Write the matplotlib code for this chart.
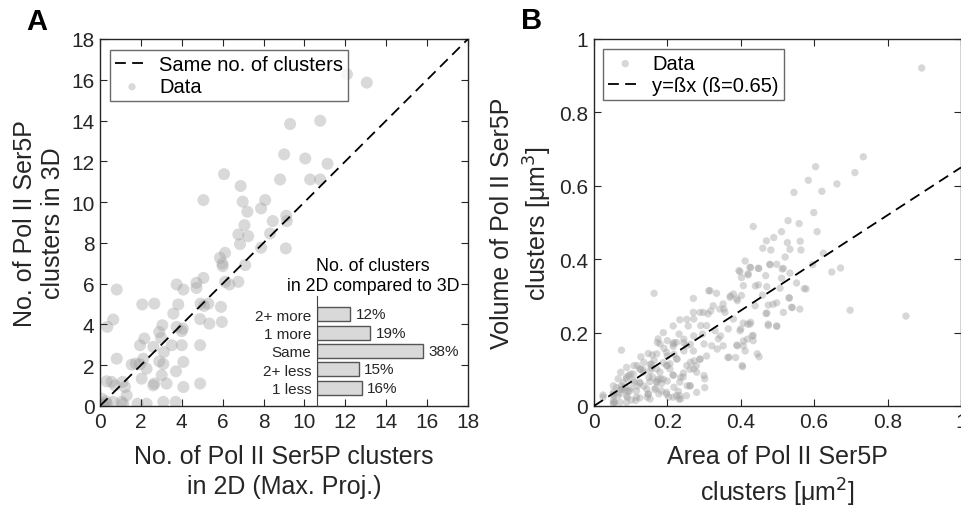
import matplotlib.pyplot as plt
import numpy as np

plt.rcParams['font.family'] = ['Liberation Sans', 'DejaVu Sans']

# panel A: cluster counts, 2D (max proj.) vs 3D
count_2d = [13.05, 12.08, 10.77, 9.30, 9.01, 10.04, 11.13, 10.28, 10.77, 8.81,
            6.07, 6.88, 5.06, 6.98, 8.08, 7.88, 7.21, 8.45, 9.14, 9.11,
            7.07, 6.77, 7.25, 8.32, 6.85, 7.88, 9.09, 7.10, 6.12, 5.87,
            6.00, 5.99, 6.77, 6.33, 6.12, 5.92, 5.96, 5.06, 4.72, 4.72,
            4.92, 5.09, 4.90, 5.35, 5.30, 3.75, 4.08, 3.83, 2.66, 2.07,
            3.59, 3.75, 4.05, 4.00, 3.05, 2.90, 2.99, 3.51, 4.00, 4.90,
            1.96, 2.17, 2.61, 3.13, 2.90, 3.10, 2.12, 1.96, 1.76, 1.55,
            2.28, 2.04, 2.61, 2.66, 3.26, 4.08, 3.72, 4.08, 4.90, 3.02,
            0.82, 0.65, 0.36, 0.82, 0.57, 0.33, 0.73, 1.11, 1.22, 1.31,
            1.06, 0.65, 0.29, 0.08, 0.13, 0.21, 1.84, 2.28, 3.10, 3.70,
            0.33, 1.14]
count_3d = [15.86, 16.27, 13.99, 13.83, 12.34, 12.14, 11.88, 11.11, 11.11, 11.11,
            11.37, 10.79, 10.10, 10.02, 10.10, 9.69, 9.53, 9.07, 9.07, 9.33,
            8.87, 8.41, 8.33, 8.46, 7.94, 7.76, 7.73, 6.91, 7.51, 7.27,
            6.86, 6.99, 6.09, 5.96, 6.09, 4.86, 4.12, 6.28, 6.04, 5.79,
            5.02, 4.91, 4.26, 4.04, 5.02, 5.96, 5.71, 4.98, 5.02, 4.98,
            4.53, 3.88, 3.80, 3.67, 3.96, 3.63, 3.34, 2.98, 2.98, 2.98,
            2.98, 3.31, 2.90, 2.65, 2.19, 2.06, 2.32, 2.05, 2.08, 2.03,
            1.83, 1.34, 1.01, 1.10, 1.10, 2.16, 1.70, 0.93, 1.10, 1.51,
            5.71, 4.24, 3.88, 2.32, 1.18, 1.21, 1.01, 1.18, 0.93, 0.52,
            0.20, 0.20, 0.23, 0.36, 0.11, 0.03, 0.11, 0.11, 0.20, 0.20,
            0.11, 0.11]

# inset: 2D compared to 3D
cmp_labels = ['1 less', '2+ less', 'Same', '1 more', '2+ more']
cmp_pct = [16, 15, 38, 19, 12]

# panel B: area vs volume
area = [0.893, 0.734, 0.711, 0.604, 0.584, 0.662, 0.621, 0.545, 0.599, 0.434,
        0.529, 0.559, 0.511, 0.608, 0.490, 0.470, 0.527, 0.562, 0.460, 0.482,
        0.534, 0.521, 0.564, 0.625, 0.596, 0.479, 0.498, 0.449, 0.513, 0.412,
        0.395, 0.420, 0.427, 0.402, 0.648, 0.672, 0.573, 0.532, 0.540, 0.561,
        0.511, 0.459, 0.440, 0.488, 0.469, 0.475, 0.498, 0.419, 0.431, 0.407,
        0.450, 0.412, 0.405, 0.386, 0.365, 0.698, 0.850, 0.164, 0.075,
        0.398, 0.425, 0.420, 0.448, 0.480, 0.516, 0.534, 0.468, 0.407, 0.448,
        0.471, 0.507, 0.552, 0.578, 0.380, 0.316, 0.334, 0.371, 0.389, 0.402,
        0.439, 0.475, 0.498, 0.532, 0.539, 0.516, 0.471, 0.352, 0.343, 0.325,
        0.298, 0.311, 0.357, 0.380, 0.407, 0.425, 0.475, 0.498, 0.434, 0.434,
        0.407, 0.389, 0.330, 0.307, 0.296, 0.339, 0.366, 0.398, 0.352, 0.321,
        0.053, 0.053, 0.053, 0.025, 0.075, 0.089, 0.107, 0.125, 0.144, 0.171,
        0.180, 0.207, 0.198, 0.225, 0.234, 0.262, 0.089, 0.116, 0.153, 0.071,
        0.089, 0.134, 0.157, 0.171, 0.198, 0.225, 0.253, 0.289, 0.280, 0.302,
        0.216, 0.253, 0.180, 0.066,
        0.289, 0.271, 0.253, 0.257, 0.234, 0.216, 0.189, 0.175, 0.200, 0.225,
        0.216, 0.245, 0.263, 0.271, 0.164, 0.148, 0.128, 0.118, 0.109, 0.089,
        0.073, 0.100, 0.125, 0.153, 0.189, 0.200, 0.218, 0.245, 0.273, 0.289,
        0.307, 0.279, 0.262, 0.244, 0.160, 0.216, 0.200, 0.189, 0.171, 0.152,
        0.136, 0.118, 0.100, 0.093, 0.084, 0.062, 0.053, 0.053, 0.057, 0.071,
        0.080, 0.098, 0.116, 0.125, 0.148, 0.168, 0.184, 0.198, 0.216, 0.236,
        0.252, 0.280, 0.302, 0.262, 0.243, 0.216, 0.198, 0.171, 0.153, 0.134,
        0.125, 0.107, 0.089, 0.071, 0.066, 0.025, 0.234, 0.230, 0.184, 0.166,
        0.148, 0.102, 0.084, 0.207, 0.175, 0.157,
        0.173, 0.159, 0.191, 0.218, 0.232, 0.245, 0.272, 0.271, 0.291, 0.313,
        0.318, 0.272, 0.300, 0.263, 0.227, 0.200, 0.136, 0.127, 0.095, 0.109,
        0.150, 0.182, 0.236, 0.218, 0.272, 0.300, 0.254, 0.177, 0.145, 0.114,
        0.054, 0.054, 0.077, 0.091, 0.204, 0.232, 0.345, 0.336, 0.368, 0.391,
        0.404, 0.445, 0.418, 0.354, 0.372, 0.391, 0.400, 0.427]
volume = [0.921, 0.679, 0.636, 0.652, 0.615, 0.605, 0.585, 0.582, 0.527, 0.489,
          0.505, 0.497, 0.475, 0.475, 0.459, 0.450, 0.445, 0.449, 0.430, 0.425,
          0.427, 0.406, 0.425, 0.416, 0.385, 0.386, 0.386, 0.375, 0.373, 0.395,
          0.369, 0.357, 0.377, 0.350, 0.365, 0.376, 0.320, 0.295, 0.268, 0.264,
          0.348, 0.302, 0.327, 0.277, 0.252, 0.223, 0.218, 0.223, 0.191, 0.177,
          0.134, 0.150, 0.107, 0.132, 0.132, 0.261, 0.245, 0.307, 0.152,
          0.366, 0.378, 0.360, 0.375, 0.385, 0.375, 0.362, 0.355, 0.328, 0.330,
          0.325, 0.321, 0.335, 0.319, 0.305, 0.314, 0.307, 0.296, 0.292, 0.301,
          0.273, 0.275, 0.281, 0.294, 0.269, 0.255, 0.253, 0.278, 0.264, 0.273,
          0.255, 0.251, 0.255, 0.237, 0.226, 0.223, 0.219, 0.217, 0.192, 0.178,
          0.164, 0.166, 0.205, 0.219, 0.196, 0.183, 0.210, 0.205, 0.164, 0.164,
          0.055, 0.037, 0.015, 0.024, 0.055, 0.074, 0.087, 0.065, 0.046, 0.065,
          0.092, 0.101, 0.037, 0.028, 0.065, 0.055, 0.028, 0.024, 0.019, 0.010,
          0.010, 0.092, 0.114, 0.142, 0.146, 0.128, 0.110, 0.128, 0.092, 0.074,
          0.169, 0.164, 0.169, 0.074,
          0.255, 0.255, 0.236, 0.218, 0.235, 0.218, 0.200, 0.183, 0.178, 0.173,
          0.162, 0.172, 0.168, 0.150, 0.124, 0.143, 0.134, 0.110, 0.110, 0.105,
          0.092, 0.087, 0.100, 0.113, 0.118, 0.136, 0.141, 0.150, 0.123, 0.127,
          0.136, 0.110, 0.100, 0.090, 0.078, 0.084, 0.068, 0.073, 0.066, 0.066,
          0.054, 0.054, 0.049, 0.040, 0.050, 0.050, 0.032, 0.005, 0.010, 0.045,
          0.064, 0.041, 0.041, 0.022, 0.032, 0.049, 0.041, 0.032, 0.024, 0.019,
          0.028, 0.037, 0.050, 0.055, 0.079, 0.084, 0.110, 0.101, 0.095, 0.099,
          0.062, 0.070, 0.079, 0.035, 0.028, 0.030, 0.028, 0.040, 0.061, 0.045,
          0.033, 0.016, 0.043, 0.115, 0.073, 0.104,
          0.173, 0.139, 0.157, 0.173, 0.196, 0.182, 0.237, 0.293, 0.219, 0.314,
          0.259, 0.191, 0.169, 0.119, 0.128, 0.110, 0.119, 0.101, 0.083, 0.065,
          0.078, 0.074, 0.078, 0.051, 0.101, 0.083, 0.055, 0.033, 0.024, 0.015,
          0.028, 0.010, 0.046, 0.024, 0.024, 0.019, 0.191, 0.155, 0.133, 0.164,
          0.110, 0.142, 0.182, 0.264, 0.300, 0.287, 0.210, 0.228]
beta = 0.65

dark = '#262626'
fig = plt.figure(figsize=(9.61, 5.10), dpi=100)

# ---- panel A
ax = fig.add_axes([0.104, 0.202, 0.383, 0.7196])
ax.plot([0, 18], [0, 18], color='k', lw=1.3, dashes=(6, 3.5), label='Same no. of clusters', zorder=3)
ax.scatter(count_2d, count_3d, s=75, color='#a0a0a0', alpha=0.4, edgecolors='none', label='Data')
ax.set_xlim(0, 18)
ax.set_ylim(0, 18)
ax.set_xticks(np.arange(0, 19, 2))
ax.set_yticks(np.arange(0, 19, 2))
ax.set_xlabel('No. of Pol II Ser5P clusters\nin 2D (Max. Proj.)', fontsize=18, color=dark,
              labelpad=10, linespacing=1.3)
ax.set_ylabel('No. of Pol II Ser5P\nclusters in 3D', fontsize=18, color=dark, labelpad=4,
              linespacing=1.25)
leg = ax.legend(loc='upper left', fontsize=14.5, frameon=True, fancybox=False, edgecolor='#444444',
                handlelength=1.7, handletextpad=0.5, borderpad=0.25, labelspacing=0.15,
                markerscale=0.6, borderaxespad=0, bbox_to_anchor=(0.027, 0.97))
leg.get_frame().set_linewidth(1.0)

# inset bars
ins = fig.add_axes([0.330, 0.202, 0.156, 0.2157])
pos = np.arange(1, 6)
ins.barh(pos, cmp_pct, height=0.75, color='#d9d9d9', edgecolor='#555555', linewidth=1.0)
for p, v in zip(pos, cmp_pct):
    ins.text(v + 2, p, f'{v}%', va='center', ha='left', fontsize=11, color=dark)
ins.set_xlim(0, 54)
ins.set_ylim(0, 6)
ins.set_yticks(pos)
ins.set_yticklabels(cmp_labels, fontsize=11, color=dark)
ins.set_xticks([])
ins.tick_params(axis='y', length=0, pad=4)
for side in ['top', 'right', 'bottom']:
    ins.spines[side].set_visible(False)
ins.spines['left'].set_color('#444444')
ins.spines['left'].set_linewidth(0.8)
ins.patch.set_alpha(0)
ins.text(0.373, 1.02, 'No. of clusters\nin 2D compared to 3D', transform=ins.transAxes,
         ha='center', va='bottom', fontsize=12.8, color='k', multialignment='center', linespacing=1.2)

# ---- panel B
bx = fig.add_axes([0.618, 0.202, 0.382, 0.7196])
xs = np.array([0, 1])
bx.scatter(area, volume, s=28, color='#a0a0a0', alpha=0.42, edgecolors='none', label='Data')
bx.plot(xs, beta * xs, color='k', lw=1.3, dashes=(6, 3.5), label='y=ßx (ß=0.65)', zorder=3)
bx.set_xlim(0, 1)
bx.set_ylim(0, 1)
ticks = [0, 0.2, 0.4, 0.6, 0.8, 1]
tlabs = ['0', '0.2', '0.4', '0.6', '0.8', '1']
bx.set_xticks(ticks)
bx.set_xticklabels(tlabs)
bx.set_yticks(ticks)
bx.set_yticklabels(tlabs)
bx.set_xlabel('Area of Pol II Ser5P\nclusters [μm$^2$]', fontsize=18, color=dark,
              labelpad=10, linespacing=1.3)
bx.set_ylabel('Volume of Pol II Ser5P\nclusters [μm$^3$]', fontsize=18, color=dark, labelpad=4,
              linespacing=1.3)
leg2 = bx.legend(loc='upper left', fontsize=14.5, frameon=True, fancybox=False, edgecolor='#444444',
                 handlelength=1.7, handletextpad=0.5, borderpad=0.25, labelspacing=0.15,
                 borderaxespad=0, bbox_to_anchor=(0.025, 0.973))
leg2.get_frame().set_linewidth(1.0)

for a in (ax, bx):
    a.tick_params(direction='in', top=True, right=True, labelsize=15, colors=dark, length=5, width=0.8, pad=4)
    for s in a.spines.values():
        s.set_color(dark)
        s.set_linewidth(1.0)

fig.text(0.038, 0.957, 'A', fontsize=21, fontweight='bold', ha='center', va='center')
fig.text(0.553, 0.959, 'B', fontsize=21, fontweight='bold', ha='center', va='center')

fig.savefig('out.png', dpi=100)
